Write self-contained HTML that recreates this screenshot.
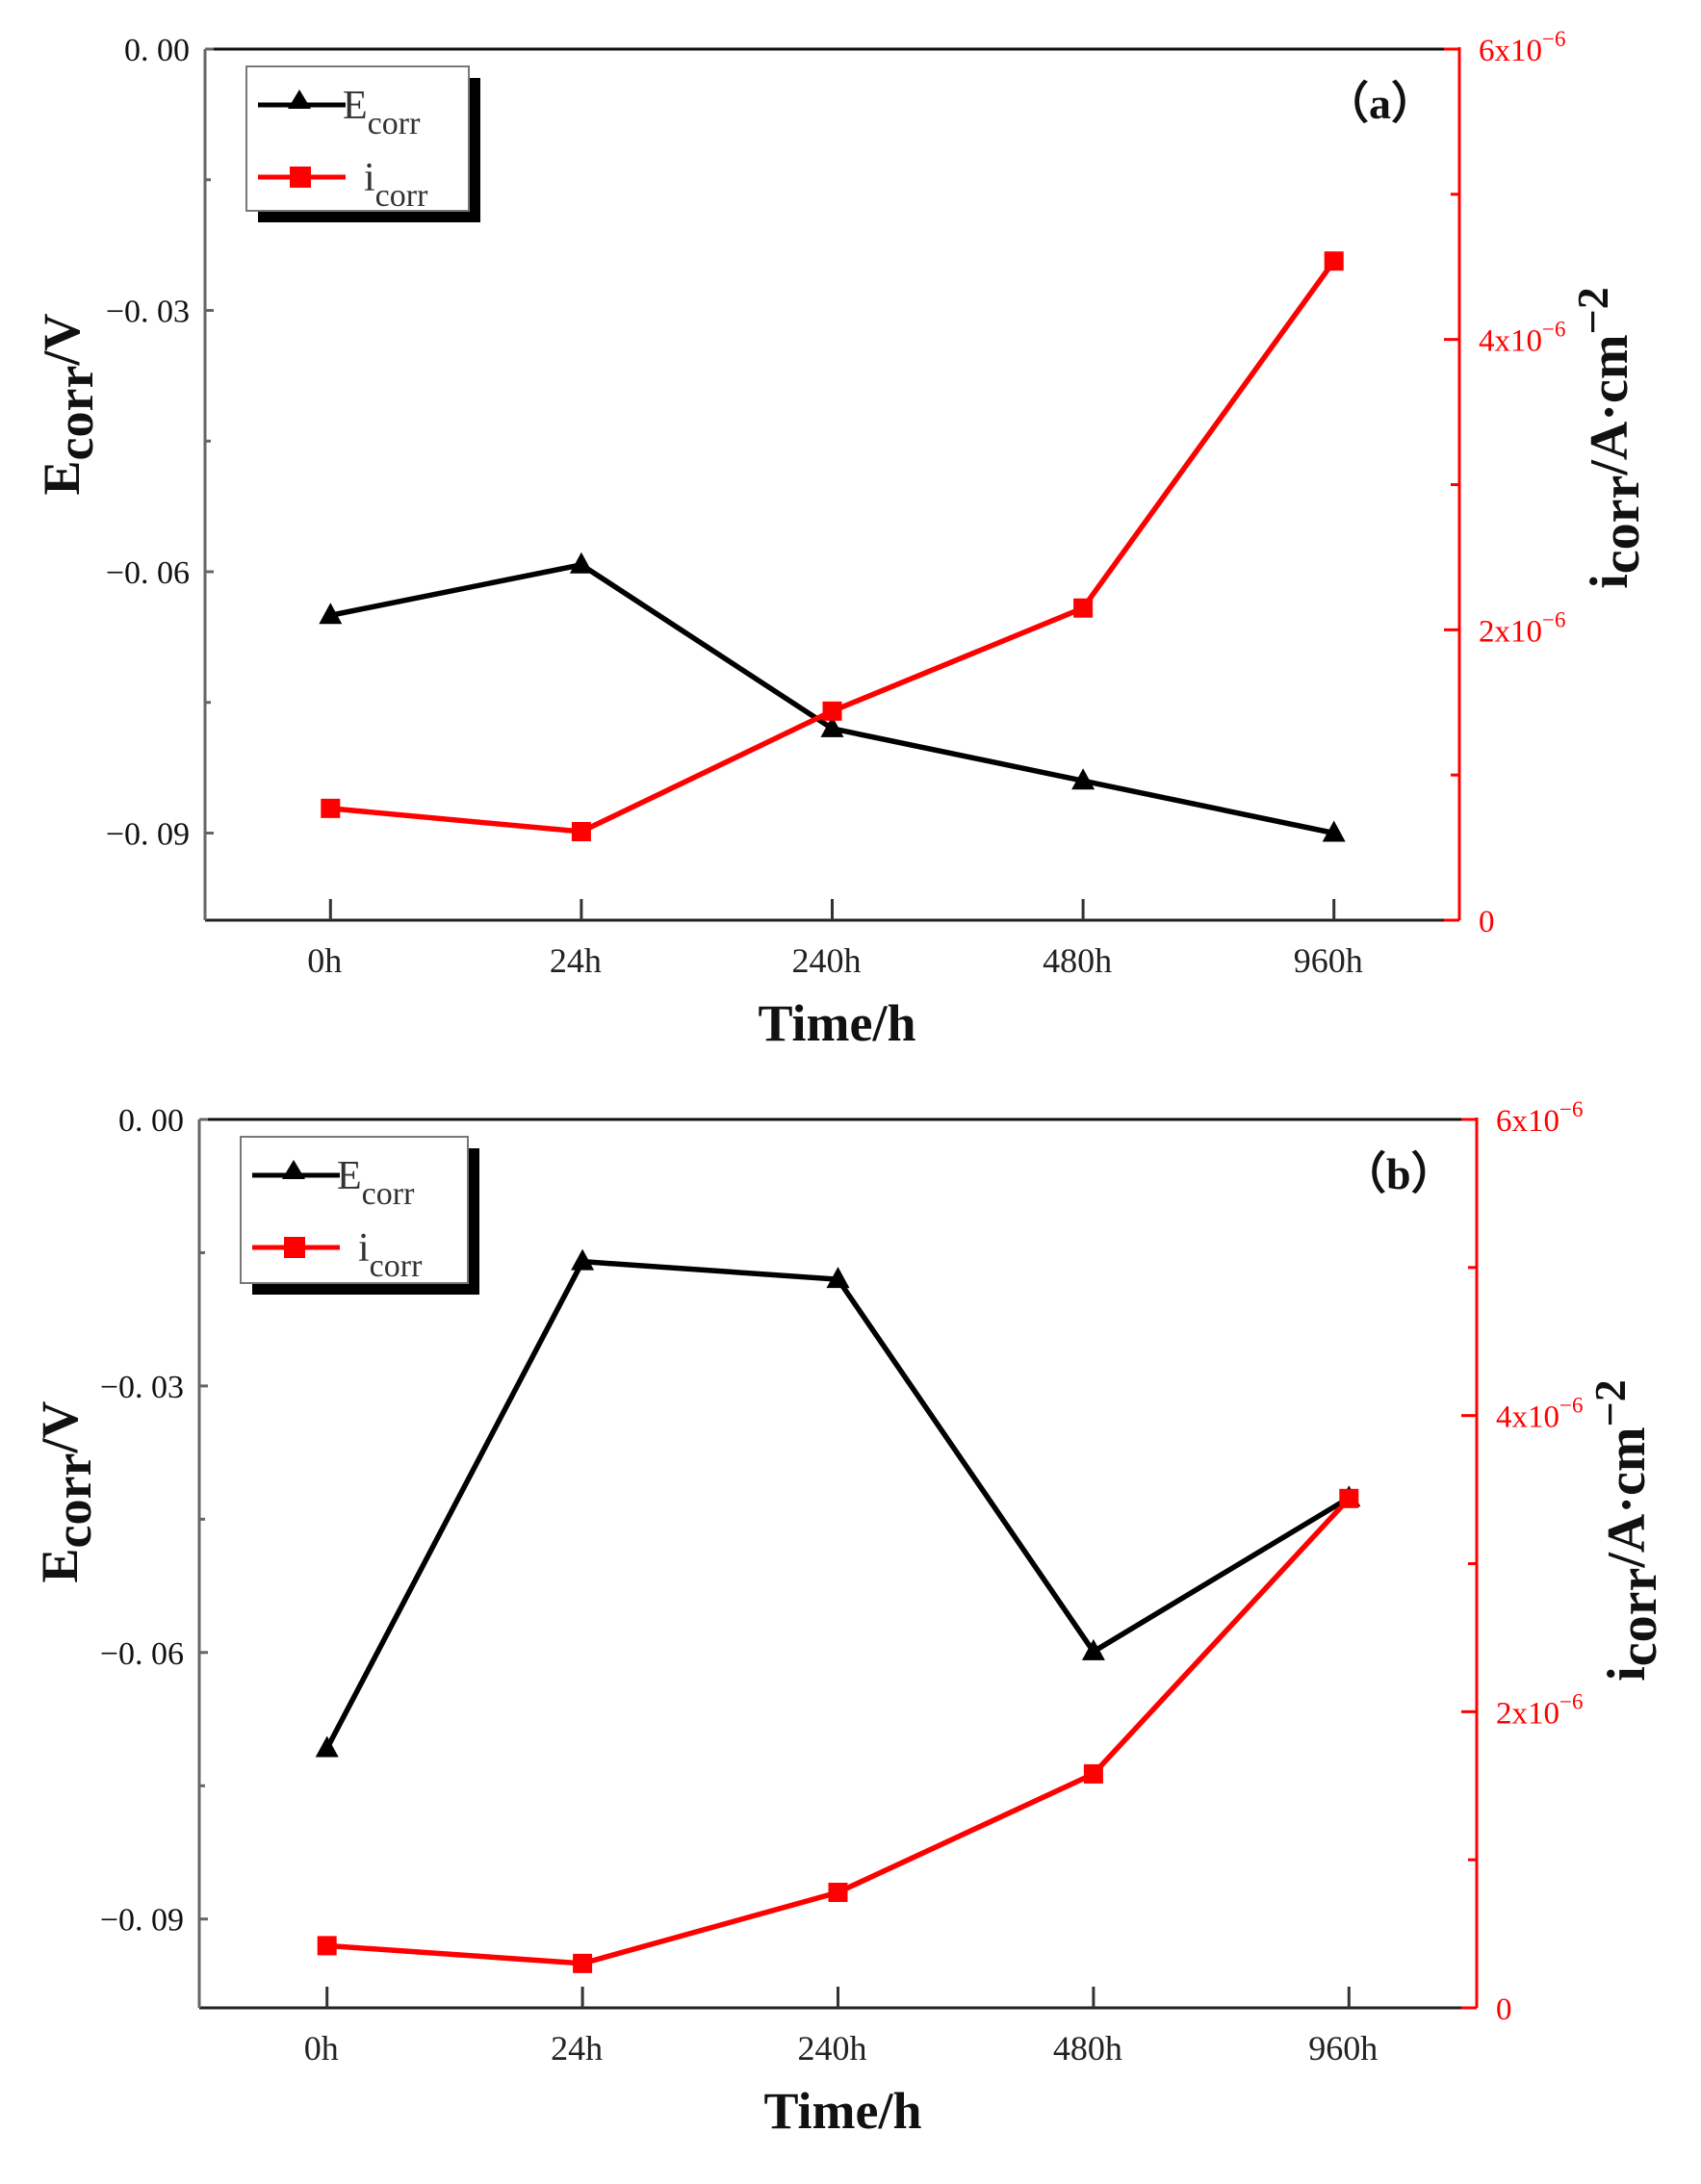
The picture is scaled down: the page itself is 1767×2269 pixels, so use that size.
<!DOCTYPE html>
<html><head><meta charset="utf-8">
<style>
html,body{margin:0;padding:0;background:#fff;}
svg{display:block;}
text{font-family:"Liberation Serif",serif;}
</style></head>
<body>
<svg id="chart" width="1767" height="2269" viewBox="0 0 1767 2269" xmlns="http://www.w3.org/2000/svg"></svg>
<script>
const categories = ["0h","24h","240h","480h","960h"];
const ecorrA = [-0.065, -0.0592, -0.078, -0.084, -0.090];
const icorrA = [0.77, 0.61, 1.44, 2.15, 4.54];
const ecorrB = [-0.0708, -0.016, -0.018, -0.0599, -0.0426];
const icorrB = [0.42, 0.30, 0.78, 1.58, 3.44];
const leftTicks = [0, -0.03, -0.06, -0.09];
const leftTickLabels = ["0. 00", "\u22120. 03", "\u22120. 06", "\u22120. 09"];
const rightTicks = [0, 2, 4, 6];
const rightTickMantissa = ["0", "2x10", "4x10", "6x10"];

const NS = "http://www.w3.org/2000/svg";
const svg = document.getElementById("chart");
function mk(tag, attrs, parent){
  const e = document.createElementNS(NS, tag);
  for (const k in attrs) e.setAttribute(k, attrs[k]);
  (parent||svg).appendChild(e);
  return e;
}

function panel(P, eData, iData, tag){
  const g = mk("g", {});
  
  
  const xS = i => P.l + (P.r - P.l) * (i + 0.5) / 5;
  const yL = v => P.t + (P.b - P.t) * (v / -0.1);
  const yR = v => P.b - (P.b - P.t) * (v / 6);

  const top = mk("line", {x1:P.l, y1:P.t, x2:P.r, y2:P.t, stroke:"#111", "stroke-width":3}, g);
  
  
  const bot = mk("line", {x1:P.l, y1:P.b, x2:P.r, y2:P.b, stroke:"#222", "stroke-width":3}, g);
  
  
  const la = mk("line", {x1:P.l, y1:P.t, x2:P.l, y2:P.b, stroke:"#666", "stroke-width":3}, g);
  
  
  const ra = mk("line", {x1:P.r, y1:P.t-2, x2:P.r, y2:P.b, stroke:"#ff0000", "stroke-width":3}, g);
  
  

  leftTicks.forEach((v, k) => {
    const y = yL(v);
    mk("line", {x1:P.l, y1:y, x2:P.l+9, y2:y, stroke:"#666", "stroke-width":3}, g);
    const t = mk("text", {x:P.l-16, y:y+12, "text-anchor":"end", "font-size":34, fill:"#111"}, g);
    t.textContent = leftTickLabels[k];
    
    
    if (k < leftTicks.length - 1) { const ym = yL(v - 0.015); mk("line", {x1:P.l, y1:ym, x2:P.l+6, y2:ym, stroke:"#666", "stroke-width":3}, g); }
  });
  rightTicks.forEach((v, k) => {
    const y = yR(v);
    mk("line", {x1:P.r-16, y1:y, x2:P.r, y2:y, stroke:"#ff0000", "stroke-width":3}, g);
    if (v < 6) { const ym = yR(v + 1); mk("line", {x1:P.r-9, y1:ym, x2:P.r, y2:ym, stroke:"#ff0000", "stroke-width":3}, g); }
    const t = mk("text", {x:P.r+20, y:y+12, "font-size":33, fill:"#ff0000"}, g);
    
    
    t.textContent = rightTickMantissa[k];
    if (v !== 0) {
      const s = mk("tspan", {"font-size":23, dy:-15}, t);
      s.textContent = "\u22126";
    }
  });
  categories.forEach((c, i) => {
    const x = xS(i);
    mk("line", {x1:x, y1:P.b, x2:x, y2:P.b-22, stroke:"#333", "stroke-width":3}, g);
    const t = mk("text", {x:x-6, y:P.b+54, "text-anchor":"middle", "font-size":36, fill:"#222"}, g);
    
    
    t.textContent = c;
  });

  const ePts = eData.map((v,i)=>xS(i)+","+yL(v)).join(" ");
  const iPts = iData.map((v,i)=>xS(i)+","+yR(v)).join(" ");
  const el = mk("polyline", {points:ePts, fill:"none", stroke:"#000", "stroke-width":5.5}, g);
  
  
  const il = mk("polyline", {points:iPts, fill:"none", stroke:"#ff0000", "stroke-width":5.5}, g);
  
  
  eData.forEach((v,i)=>{
    const x = xS(i), y = yL(v);
    const m = mk("polygon", {points:`${x},${y-13} ${x-12},${y+9} ${x+12},${y+9}`, fill:"#000"}, g);
    
    
  });
  iData.forEach((v,i)=>{
    const x = xS(i), y = yR(v);
    const m = mk("rect", {x:x-10, y:y-10, width:20, height:20, fill:"#ff0000"}, g);
    
    
  });

  const L = P.leg;
  const lg = mk("g", {}, g);
  
  
  mk("rect", {x:L.x+12, y:L.y+12, width:L.w, height:L.h, fill:"#000"}, lg);
  mk("rect", {x:L.x, y:L.y, width:L.w, height:L.h, fill:"#fff", stroke:"#777", "stroke-width":2}, lg);
  const ly1 = L.y + 40, ly2 = L.y + 115;
  mk("line", {x1:L.x+12, y1:ly1, x2:L.x+103, y2:ly1, stroke:"#000", "stroke-width":5}, lg);
  mk("polygon", {points:`${L.x+55},${ly1-16} ${L.x+43},${ly1+4} ${L.x+67},${ly1+4}`, fill:"#000"}, lg);
  mk("line", {x1:L.x+12, y1:ly2, x2:L.x+103, y2:ly2, stroke:"#ff0000", "stroke-width":5}, lg);
  mk("rect", {x:L.x+45, y:ly2-11, width:22, height:22, fill:"#ff0000"}, lg);
  const t1 = mk("text", {x:L.x+100, y:ly1+14, "font-size":42, fill:"#333"}, lg);
  
  
  t1.appendChild(document.createTextNode("E"));
  const s1 = mk("tspan", {"font-size":34, dy:16}, t1); s1.textContent = "corr";
  const t2 = mk("text", {x:L.x+122, y:ly2+14, "font-size":42, fill:"#333"}, lg);
  
  
  t2.appendChild(document.createTextNode("i"));
  const s2 = mk("tspan", {"font-size":34, dy:16}, t2); s2.textContent = "corr";

  const pl = mk("text", {x:P.r-140, y:P.t+72, "font-size":46, "font-weight":"bold", fill:"#111"}, g);
  
  
  pl.textContent = "\uFF08" + tag + "\uFF09";
  pl.setAttribute('font-family', '"Liberation Serif", "Noto Serif CJK SC", serif');

  const xt = mk("text", {x:(P.l+P.r)/2+5, y:P.b+125, "text-anchor":"middle", "font-size":54, "font-weight":"bold", fill:"#111"}, g);
  
  
  xt.textContent = "Time/h";

  const yt = mk("text", {x:0, y:0, "text-anchor":"middle", "font-size":54, "font-weight":"bold", fill:"#111", transform:`translate(${P.ylx},${P.yly}) rotate(-90)`}, g);
  
  
  yt.appendChild(document.createTextNode("E"));
  const ys = mk("tspan", {dy:14}, yt); ys.textContent = "corr";
  const ys2 = mk("tspan", {dy:-14}, yt); ys2.textContent = "/V";

  const rt = mk("text", {x:0, y:0, "text-anchor":"middle", "font-size":56, "font-weight":"bold", fill:"#111", transform:`translate(${P.yrx},${P.yry}) rotate(-90)`}, g);
  
  
  rt.appendChild(document.createTextNode("i"));
  const r1 = mk("tspan", {dy:12}, rt); r1.textContent = "corr";
  const r2 = mk("tspan", {dy:-12}, rt); r2.textContent = "/A\u00B7cm";
  const r3 = mk("tspan", {dy:-20, "font-size":46}, rt); r3.textContent = "\u22122";
}

panel({l:213, r:1516, t:51, b:956, leg:{x:256, y:69, w:231, h:150}, ylx:82, yly:420, yrx:1690, yry:455}, ecorrA, icorrA, "a");
panel({l:207, r:1534, t:1163, b:2086, leg:{x:250, y:1181, w:236, h:152}, ylx:80, yly:1550, yrx:1708, yry:1590}, ecorrB, icorrB, "b");
</script>
</body></html>
